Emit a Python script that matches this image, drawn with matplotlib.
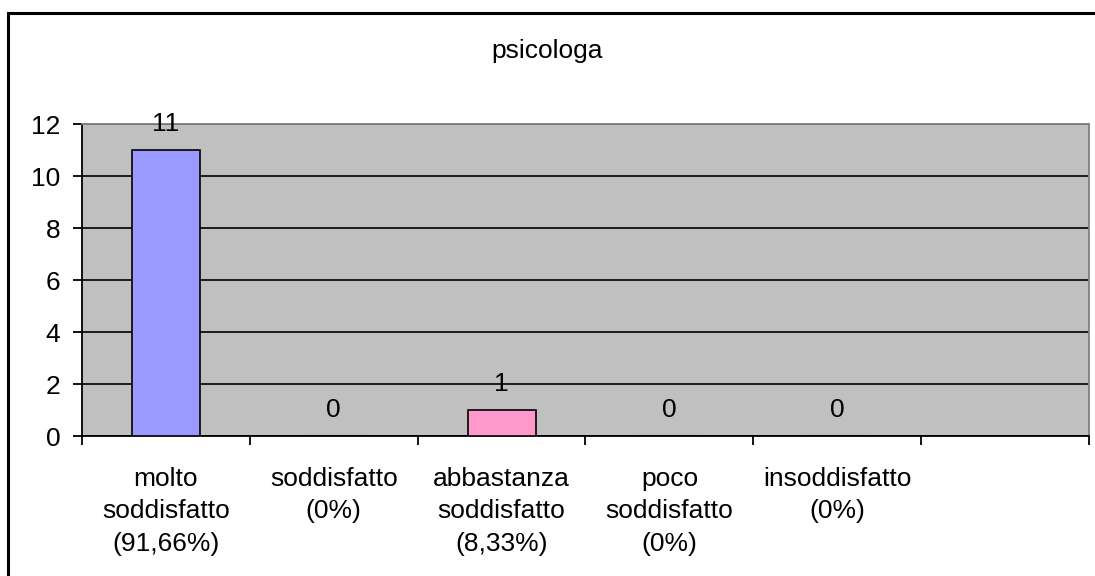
import matplotlib.pyplot as plt
from matplotlib.patches import Rectangle
from matplotlib.ticker import FixedLocator

plt.rcParams["font.family"] = ["Liberation Sans", "DejaVu Sans"]
plt.rcParams["font.size"] = 19

title = "psicologa"
categories = ["molto\nsoddisfatto\n(91,66%)", "soddisfatto\n(0%)",
              "abbastanza\nsoddisfatto\n(8,33%)", "poco\nsoddisfatto\n(0%)",
              "insoddisfatto\n(0%)", ""]
values = [11, 0, 1, 0, 0]
colors = ["#9999ff", "#9999ff", "#ff99cc", "#ff99cc", "#ff99cc"]

fig = plt.figure(figsize=(10.95, 5.76), dpi=100)
ax = fig.add_axes([82 / 1095, 1 - 436 / 576, (1089 - 82) / 1095, (436 - 124) / 576])
ax.set_facecolor("#c0c0c0")

pos = [i + 0.5 for i in range(len(values))]
ax.bar(pos, values, width=0.405, color=colors, edgecolor="black", linewidth=1.2, zorder=3)
for x, v in zip(pos, values):
    ax.annotate(str(v), (x, v), xytext=(0, 19), textcoords="offset points",
                ha="center", va="center", zorder=4)

ax.set_xlim(0, len(categories))
ax.set_ylim(0, 12)
ax.set_yticks(range(0, 13, 2))
ax.yaxis.grid(True, color="black", linewidth=1.2, zorder=1)
ax.set_axisbelow(True)

ax.set_xticks(range(len(categories) + 1))
ax.set_xticklabels([])
ax.xaxis.set_minor_locator(FixedLocator([i + 0.5 for i in range(len(categories))]))
ax.set_xticklabels(categories, minor=True, linespacing=1.47)
ax.tick_params(axis="x", which="minor", length=0, pad=22)
ax.tick_params(axis="x", which="major", length=6.5, width=1.3, direction="out")
ax.tick_params(axis="y", length=6.5, width=1.3, pad=9)

for s in ["left", "bottom"]:
    ax.spines[s].set_color("black")
    ax.spines[s].set_linewidth(1.3)
for s in ["top", "right"]:
    ax.spines[s].set_color("#808080")
    ax.spines[s].set_linewidth(1.3)

fig.text(0.5, 1 - 51 / 576, title, ha="center", va="center")

fig.add_artist(Rectangle((8 / 1095, -0.1), 1.2, 1.1 - 13 / 576, transform=fig.transFigure,
                         fill=False, edgecolor="black", linewidth=2.2))

fig.savefig("out.png", dpi=100)
